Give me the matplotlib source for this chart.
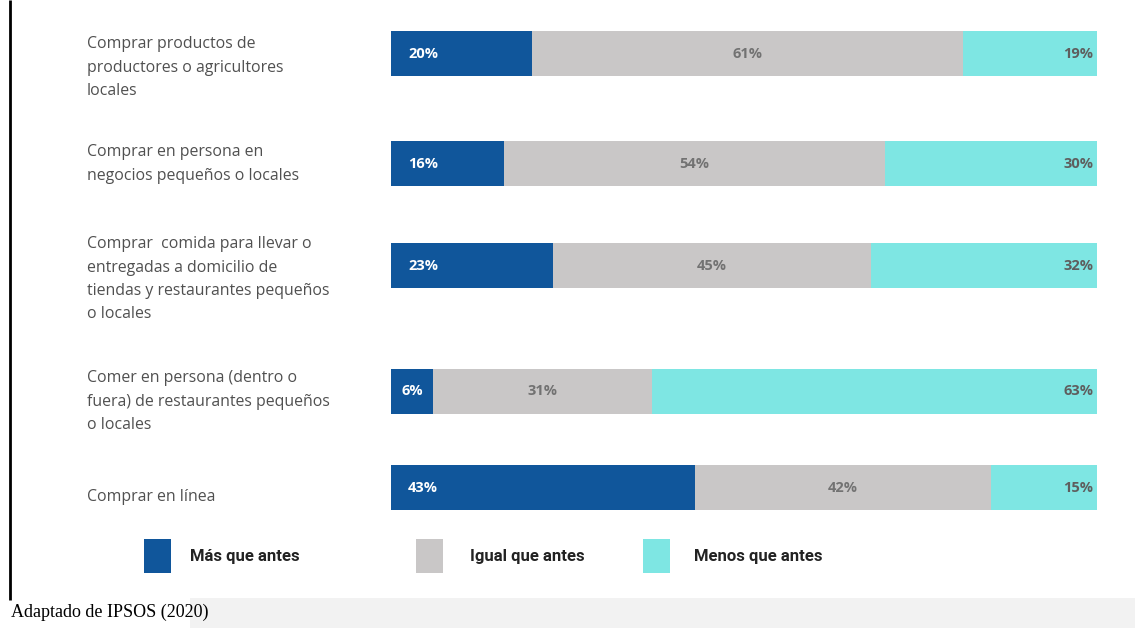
import numpy as np
import matplotlib.pyplot as plt
from matplotlib.patches import Rectangle

# survey answers, percent of respondents
categories = [
    "Comprar productos de\nproductores o agricultores\nlocales",
    "Comprar en persona en\nnegocios pequeños o locales",
    "Comprar  comida para llevar o\nentregadas a domicilio de\ntiendas y restaurantes pequeños\no locales",
    "Comer en persona (dentro o\nfuera) de restaurantes pequeños\no locales",
    "Comprar en línea",
]
mas = [20, 16, 23, 6, 43]
igual = [61, 54, 45, 31, 42]
menos = [19, 30, 32, 63, 15]
series_names = ["Más que antes", "Igual que antes", "Menos que antes"]

blue = "#10569b"
grey = "#c9c7c7"
cyan = "#7ee6e3"

W, H = 1135, 628
fig = plt.figure(figsize=(W / 100, H / 100), dpi=100)

# overlay in pixel units for labels, legend and caption
ov = fig.add_axes([0, 0, 1, 1])
ov.set_xlim(0, W)
ov.set_ylim(H, 0)
ov.axis("off")

# bar panel: x in percent, y in pixel rows
bar_y = [53.5, 163.5, 265.5, 391, 487.5]
label_y = [43, 151, 243, 377, 496]
ax = fig.add_axes([391 / W, 0, 706 / W, 1])
ax.set_xlim(0, 100)
ax.set_ylim(H, 0)
ax.axis("off")

mas_a = np.array(mas)
igual_a = np.array(igual)
menos_a = np.array(menos)
ax.barh(bar_y, mas_a, height=45, color=blue)
ax.barh(bar_y, igual_a, left=mas_a, height=45, color=grey)
ax.barh(bar_y, menos_a, left=mas_a + igual_a, height=45, color=cyan)

vfont = dict(family="Open Sans", fontsize=10.5, fontweight="bold", va="center")
for y, m, g, c in zip(bar_y, mas, igual, menos):
    if m < 10:
        ax.text(m / 2, y, f"{m}%", color="white", ha="center", **vfont)
    else:
        ax.text(2.4, y, f"{m}%", color="white", ha="left", **vfont)
    ax.text(m + g / 2, y, f"{g}%", color="#727272", ha="center", **vfont)
    ax.text(99.5, y, f"{c}%", color="#5e5e5e", ha="right", **vfont)

# category labels, one line at a time
for y0, cat in zip(label_y, categories):
    for i, line in enumerate(cat.split("\n")):
        ov.text(87, y0 + i * 23.5 + 5, line, family="Open Sans", fontsize=11.4,
                color="#505050", ha="left", va="baseline")

# legend
leg_x = [144, 416, 643]
txt_x = [190, 470, 694]
for bx, tx, name, col in zip(leg_x, txt_x, series_names, [blue, grey, cyan]):
    ov.add_patch(Rectangle((bx, 539), 27, 34, color=col, lw=0))
    ov.text(tx, 556, name, family="Roboto", fontsize=12, fontweight="bold",
            color="#222222", ha="left", va="center")

# bottom band, frame line and source note
ov.add_patch(Rectangle((190, 598), W - 190, 30, color="#f2f2f2", lw=0))
ov.plot([10, 10], [0, 600], color="black", lw=2, solid_capstyle="butt")
ov.text(11, 617, "Adaptado de IPSOS (2020)", family="Liberation Serif",
        fontsize=13, color="black", ha="left", va="baseline")

fig.savefig("out.png", dpi=100, facecolor="white")
